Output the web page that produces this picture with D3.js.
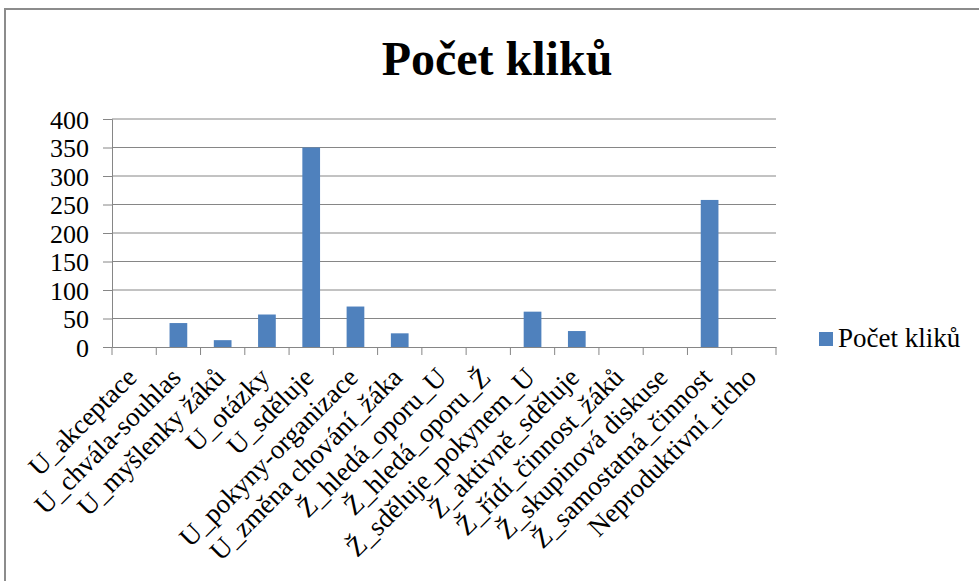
<!DOCTYPE html>
<html>
<head>
<meta charset="utf-8">
<script src="https://cdn.jsdelivr.net/npm/d3@7"></script>
<style>
  body { margin: 0; background: #fff; }
  svg { display: block; }
  svg text { font-family: "Liberation Serif", "Times New Roman", serif !important; fill: #000; }
</style>
</head>
<body>
<div id="chart"></div>
<script>
const categories = [
    "U_akceptace", "U_chvála-souhlas", "U_myšlenky žáků", "U_otázky", "U_sděluje",
    "U_pokyny-organizace", "U_změna chování_žáka", "Ž_hledá_oporu_U", "Ž_hledá_oporu_Ž",
    "Ž_sděluje_pokynem_U", "Ž_aktivně_sděluje", "Ž_řídí_činnost_žáků", "Ž_skupinová diskuse",
    "Ž_samostatná_činnost", "Neproduktivní_ticho"
]
const values = [0, 42, 12, 57, 350, 71, 24, 0, 0, 62, 28, 0, 0, 258, 0]
const yTicks = [0, 50, 100, 150, 200, 250, 300, 350, 400]
const seriesName = "Počet kliků"
const barColor = "#4F81BD"
const lineColor = "#868686"

const width = 979, height = 581
const margin = { top: 119, bottom: 234, left: 112, right: 203 }

const svg = d3.select("#chart")
    .append("svg")
    .attr("width", width)
    .attr("height", height)

// outer chart frame
svg.append("rect")
    .attr("x", 5).attr("y", 9)
    .attr("width", width + 10).attr("height", height + 10)
    .attr("fill", "none")
    .attr("stroke", "#8c8c8c")
    .attr("stroke-width", 2)

svg.append("text")
    .attr("x", 497).attr("y", 75)
    .attr("text-anchor", "middle")
    .attr("font-size", "48px")
    .attr("font-weight", "bold")
    .text(seriesName)

const x = d3.scaleBand()
    .domain(categories)
    .range([margin.left, width - margin.right])

const y = d3.scaleLinear()
    .domain([0, 400])
    .range([height - margin.bottom, margin.top])

// gridlines
svg.append("g")
    .selectAll("line")
    .data(yTicks.slice(1))
    .join("line")
    .attr("x1", margin.left).attr("x2", width - margin.right)
    .attr("y1", d => y(d)).attr("y2", d => y(d))
    .attr("stroke", lineColor)
    .attr("stroke-width", 1)

// bars
const barW = x.bandwidth() / 2.5
svg.append("g")
    .selectAll("rect")
    .data(values)
    .join("rect")
    .attr("x", (d, i) => x(categories[i]) + x.bandwidth() / 2 - barW / 2)
    .attr("y", d => y(d))
    .attr("width", barW)
    .attr("height", d => y(0) - y(d))
    .attr("fill", barColor)

// y axis
const yAxis = svg.append("g")
    .attr("transform", `translate(${margin.left},0)`)
    .call(d3.axisLeft(y).tickValues(yTicks).tickSize(9).tickPadding(14))
yAxis.select(".domain").attr("stroke", lineColor)
yAxis.selectAll(".tick line").attr("stroke", lineColor)
yAxis.selectAll(".tick text")
    .attr("font-size", "26px")
    .attr("dy", "0.36em")

// x axis
const xAxis = svg.append("g")
    .attr("transform", `translate(0,${y(0)})`)
    .call(d3.axisBottom(x).tickSize(0).tickFormat(""))
xAxis.select(".domain").attr("stroke", lineColor)

// x tick marks at category boundaries
svg.append("g")
    .selectAll("line")
    .data(d3.range(categories.length + 1))
    .join("line")
    .attr("x1", i => margin.left + i * x.step())
    .attr("x2", i => margin.left + i * x.step())
    .attr("y1", y(0)).attr("y2", y(0) + 8)
    .attr("stroke", lineColor)

// rotated category labels
svg.append("g")
    .selectAll("text")
    .data(categories)
    .join("text")
    .attr("transform", d => `translate(${x(d) + x.bandwidth() / 2 + 4},${y(0) + 32}) rotate(-45)`)
    .attr("text-anchor", "end")
    .attr("font-size", "27px")
    .text(d => d)

// legend
const legend = svg.append("g").attr("transform", "translate(819,332)")
legend.append("rect")
    .attr("width", 14).attr("height", 14)
    .attr("fill", barColor)
legend.append("text")
    .attr("x", 19).attr("y", 15)
    .attr("font-size", "27px")
    .text(seriesName)
</script>
</body>
</html>
